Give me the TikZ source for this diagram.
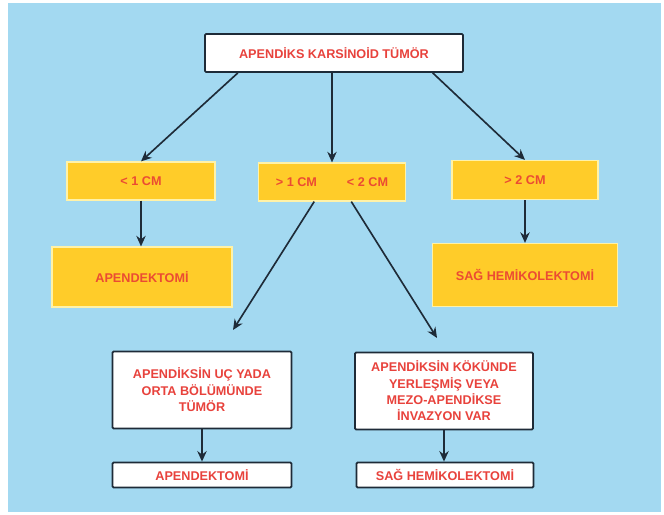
\documentclass[tikz,border=0pt]{standalone}
\usepackage{fontspec}
\setmainfont{Liberation Sans}
\usetikzlibrary{arrows.meta,calc}
\definecolor{sky}{HTML}{A3D9F1}
\definecolor{gold}{HTML}{FFCC29}
\definecolor{paleyellow}{HTML}{FFF2A8}
\definecolor{alert}{HTML}{E8423C}
\definecolor{ink}{HTML}{1E2B38}

\begin{document}
\begin{tikzpicture}[x=0.03cm,y=-0.03cm,
    font=\bfseries\fontsize{10.8}{14}\selectfont,
    >={Stealth[length=9pt,width=8pt]},
    whitebox/.style={draw=ink,line width=1.5pt,fill=white,rounded corners=1pt,
      text=alert,align=center,inner sep=0pt},
    goldbox/.style={draw=paleyellow,line width=1pt,fill=gold,
      text=alert!85!orange,inner sep=0pt},
    link/.style={->,draw=ink,line width=1.4pt}]
  \useasboundingbox (0,0) rectangle (664,515);
  \fill[sky] (8,3) rectangle (661,512);

  % Root
  \node[whitebox,minimum width=7.74cm,minimum height=1.14cm] (root)
    at (334,53) {APENDİKS KARSİNOİD TÜMÖR};

  % Size classes
  \node[goldbox,minimum width=4.44cm,minimum height=1.14cm] (small)
    at (141,181) {< 1 CM};
  \node[goldbox,minimum width=4.41cm,minimum height=1.14cm] (medium)
    at (332,182) {> 1 CM\hspace{0.9cm}< 2 CM};
  \node[goldbox,minimum width=4.38cm,minimum height=1.17cm] (large)
    at (525,180) {> 2 CM};

  \node[goldbox,minimum width=5.4cm,minimum height=1.8cm] (smallop)
    at (142,277) {APENDEKTOMİ};
  \node[goldbox,minimum width=5.55cm,minimum height=1.89cm] (largeop)
    at (525,275) {SAĞ HEMİKOLEKTOMİ};

  % Medium size: location decides
  \node[whitebox,minimum width=5.37cm,minimum height=2.31cm] (tip)
    at (202,390) {APENDİKSİN UÇ YADA\\ORTA BÖLÜMÜNDE\\TÜMÖR};
  \node[whitebox,minimum width=5.34cm,minimum height=2.31cm] (base)
    at (444,391) {APENDİKSİN KÖKÜNDE\\YERLEŞMİŞ VEYA\\MEZO-APENDİKSE\\İNVAZYON VAR};
  \node[whitebox,minimum width=5.37cm,minimum height=0.75cm] (tipop)
    at (202,475) {APENDEKTOMİ};
  \node[whitebox,minimum width=5.31cm,minimum height=0.75cm] (baseop)
    at (445,475) {SAĞ HEMİKOLEKTOMİ};

  \coordinate (tiparrow) at (233,330);
  \coordinate (basearrow) at (437,338);

  \draw[link] ($(root.south west)!0.13!(root.south east)$) -- (small.north);
  \draw[link] (medium.north |- root.south) -- (medium.north);
  \draw[link] ($(root.south west)!0.88!(root.south east)$) -- (large.north);
  \draw[link] (small.south) -- (small.south |- smallop.north);
  \draw[link] (large.south) -- (large.south |- largeop.north);
  \draw[link] ($(medium.south west)!0.38!(medium.south east)$) -- (tiparrow);
  \draw[link] ($(medium.south west)!0.63!(medium.south east)$) -- (basearrow);
  \draw[link] (tip.south) -- (tip.south |- tipop.north);
  \draw[link] (base.south) -- (base.south |- baseop.north);
\end{tikzpicture}
\end{document}
